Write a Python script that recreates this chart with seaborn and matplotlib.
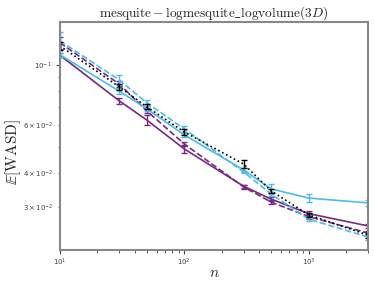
import numpy as np
import pandas as pd
import matplotlib
matplotlib.use("Agg")
import matplotlib.pyplot as plt
import seaborn as sns

n_values = [10, 30, 50, 100, 300, 500, 1000, 3000]

series_names = ["purple_solid", "purple_dashed", "blue_solid", "blue_dashed", "black_dotted"]

purple_solid = [0.1085, 0.0737, 0.0626, 0.0490, 0.0357, 0.0320, 0.0283, 0.0255]
purple_dashed = [0.1206, 0.0850, 0.0677, 0.0511, 0.0355, 0.0312, 0.0276, 0.0240]
blue_solid = [0.1090, 0.0800, 0.0689, 0.0552, 0.0410, 0.0349, 0.0323, 0.0310]
blue_dashed = [0.1226, 0.0880, 0.0724, 0.0581, 0.0403, 0.0334, 0.0270, 0.0232]
black_dotted = [0.1175, 0.0830, 0.0700, 0.0566, 0.0431, 0.0343, 0.0280, 0.0236]

purple_solid_err = [0.002, 0.002, 0.0025, 0.0015, 0.0005, 0.0006, 0.0006, 0.0005]
purple_dashed_err = [0.006, 0.002, 0.0015, 0.001, 0.0005, 0.0006, 0.0005, 0.0005]
blue_solid_err = [0.002, 0.002, 0.0015, 0.001, 0.0008, 0.0014, 0.0010, 0.0009]
blue_dashed_err = [0.009, 0.004, 0.002, 0.0015, 0.0005, 0.0006, 0.0005, 0.0005]
black_dotted_err = [0.004, 0.002, 0.0015, 0.0015, 0.0014, 0.0006, 0.0005, 0.0005]

title = r"$\mathrm{mesquite} - \mathrm{logmesquite\_logvolume}(3D)$"
xlabel = r"$n$"
ylabel = r"$\mathbb{E}[\mathrm{WASD}]$"

PURPLE = "#762a83"
BLUE = "#4dbbeb"

styles = {
    "purple_solid": (PURPLE, "-"),
    "purple_dashed": (PURPLE, "--"),
    "blue_solid": (BLUE, "-"),
    "blue_dashed": (BLUE, "--"),
    "black_dotted": ("black", ":"),
}
vals = {
    "purple_solid": (purple_solid, purple_solid_err),
    "purple_dashed": (purple_dashed, purple_dashed_err),
    "blue_solid": (blue_solid, blue_solid_err),
    "blue_dashed": (blue_dashed, blue_dashed_err),
    "black_dotted": (black_dotted, black_dotted_err),
}

sns.set_style("white")
plt.rcParams["mathtext.fontset"] = "cm"
plt.rcParams["font.family"] = ["DejaVu Sans"]

fig = plt.figure(figsize=(3.74, 2.87), dpi=100)
ax = fig.add_axes([0.160, 0.129, 0.824, 0.794])

for name in series_names:
    color, ls = styles[name]
    y, e = vals[name]
    df = pd.DataFrame({"n": n_values, "v": y})
    sns.lineplot(data=df, x="n", y="v", ax=ax, color=color, linestyle=ls,
                 linewidth=1.2, errorbar=None)
    ax.errorbar(n_values, y, yerr=e, fmt="none", ecolor=color, elinewidth=1.0,
                capsize=2.5, capthick=1.0)

ax.set_xscale("log")
ax.set_yscale("log")
ax.set_xlim(10, 3000)
ax.set_title(title, fontsize=9.6, pad=4)
ax.set_xlabel(xlabel, fontsize=11)
ax.set_ylabel(ylabel, fontsize=11)
ax.xaxis.set_label_coords(0.5, -0.065)
ax.yaxis.set_label_coords(-0.118, 0.43)

for s in ax.spines.values():
    s.set_color("#888888")
    s.set_linewidth(1.5)
ax.tick_params(which="both", direction="out", colors="#444444", labelsize=5, pad=2)
ax.tick_params(which="major", length=3, width=0.8, left=True, bottom=True)
ax.tick_params(which="minor", length=1.8, width=0.6, left=True, bottom=True)
ax.tick_params(axis="y", which="both", pad=2.5)

fig.savefig("out.png", dpi=100)
